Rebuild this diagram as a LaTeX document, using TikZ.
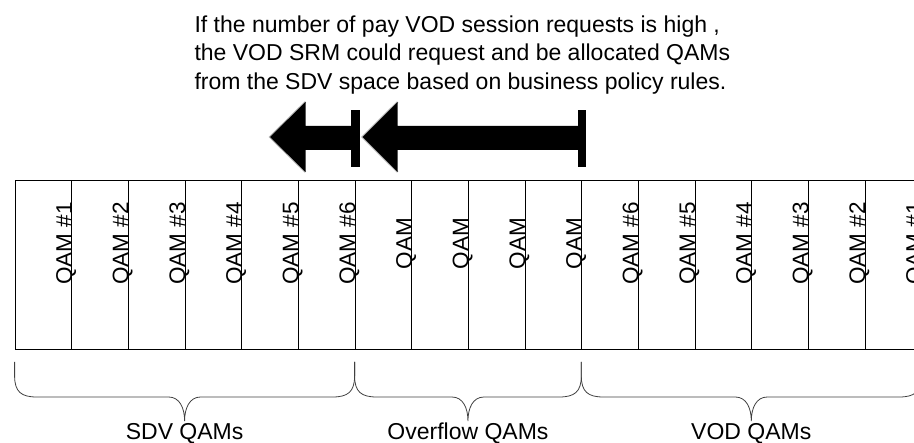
\documentclass[tikz,border=0pt]{standalone}
\usepackage{fontspec}
\setmainfont{Liberation Sans}
\begin{document}
\begin{tikzpicture}[x=1pt, y=-1pt, line width=1pt,
  cell/.style={draw, minimum width=56.67pt, minimum height=169pt, inner sep=0pt, anchor=north west},
  cell label/.style={xshift=-0.5pt, yshift=21.5pt, rotate=90, anchor=base, inner sep=0pt, font=\fontsize{22.5}{27}\selectfont},
  group label/.style={anchor=base, inner sep=0pt, font=\fontsize{23}{28}\selectfont},
  arrow edge/.style={draw=gray!60, line width=2pt, line join=miter},
  brace line/.style={draw=black!75, line width=0.8pt}]

  \useasboundingbox (0,0) rectangle (914,443);
  \clip (0,0) rectangle (914,443);

  % note above the arrows
  \node[anchor=north west, align=left, inner sep=0pt, font=\fontsize{23}{28.5}\selectfont] (note) at (194,15)
    {If the number of pay VOD session requests is high ,\\
     the VOD SRM could request and be allocated QAMs\\
     from the SDV space based on business policy rules.};

  % QAM cells
  \foreach \i in {1,...,16}
    \node[cell] (c\i) at ({14.6+(\i-1)*56.67},180) {};

  \foreach \i/\t in {1/QAM \#1, 2/QAM \#2, 3/QAM \#3, 4/QAM \#4, 5/QAM \#5, 6/QAM \#6,
                     7/QAM, 8/QAM, 9/QAM, 10/QAM,
                     11/QAM \#6, 12/QAM \#5, 13/QAM \#4, 14/QAM \#3, 15/QAM \#2, 16/QAM \#1}
    \node[cell label] (l\i) at (c\i.east) {\t};

  % arrows
  \draw[arrow edge] (305.5,102) -- (270,137) -- (305.5,172);
  \fill (270,137) -- (305.5,102) -- (305.5,126) -- (351,126) -- (351,150) -- (305.5,150) -- (305.5,172) -- cycle;
  \fill (351,110) rectangle (360,167);

  \draw[arrow edge] (397.7,102) -- (362.5,137) -- (397.7,172);
  \fill (362.5,137) -- (397.7,102) -- (397.7,126) -- (578,126) -- (578,150) -- (397.7,150) -- (397.7,172) -- cycle;
  \fill (578,110) rectangle (586,167);

  % braces
  \foreach \l/\r in {14.6/354.6, 354.6/581.3, 581.3/921.3} {
    \pgfmathsetmacro\m{(\l+\r)/2}
    \draw[brace line] (\l,362) -- (\l,376) .. controls (\l,392) and (\l+7,397) .. (\l+22,397)
      -- (\m-16,397) .. controls (\m-5,397) and (\m,408) .. (\m,421)
      .. controls (\m,408) and (\m+5,397) .. (\m+16,397)
      -- (\r-22,397) .. controls (\r-7,397) and (\r,392) .. (\r,376) -- (\r,362);
  }

  \node[group label] (sdv) at (184.6,439.5) {SDV QAMs};
  \node[group label] (overflow) at (468,439.5) {Overflow QAMs};
  \node[group label] (vod) at (751.3,439.5) {VOD QAMs};
\end{tikzpicture}
\end{document}
